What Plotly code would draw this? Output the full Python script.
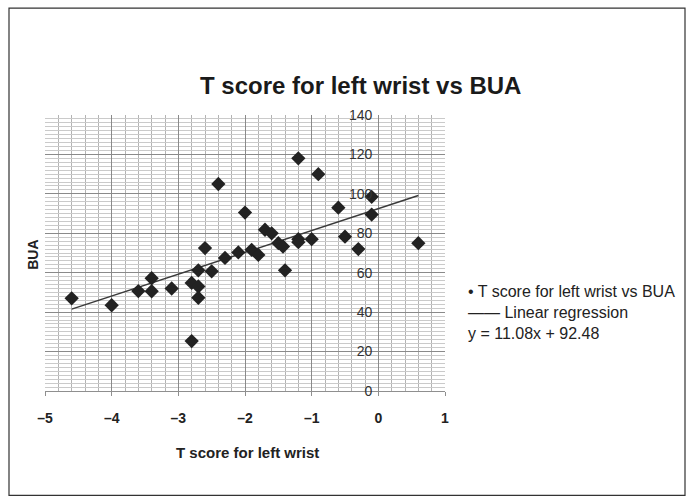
import plotly.graph_objects as go

# ---- data ----
t_score = [-4.6, -4.0, -3.6, -3.4, -3.4, -3.1, -2.8, -2.8, -2.7, -2.7, -2.7, -2.6,
           -2.5, -2.4, -2.3, -2.1, -2.0, -1.9, -1.8, -1.7, -1.6, -1.5, -1.43, -1.4,
           -1.2, -1.2, -1.2, -1.0, -0.9, -0.6, -0.5, -0.3, -0.1, -0.1, 0.6]
bua = [47.0, 43.5, 50.7, 57.2, 50.6, 52.0, 25.3, 54.8, 53.0, 47.3, 61.2, 72.5,
       60.7, 105.0, 67.5, 70.3, 90.5, 71.6, 69.0, 81.8, 80.0, 75.0, 73.3, 61.2,
       118.0, 77.0, 75.5, 77.0, 110.0, 93.0, 78.3, 72.0, 98.5, 89.5, 75.0]
slope = 11.08
intercept = 92.48
fit_x = [-4.6, 0.6]
x_tick_vals = [-5, -4, -3, -2, -1, 0, 1]
x_tick_text = ["\u20135", "\u20134", "\u20133", "\u20132", "\u20131", "0", "1"]
y_tick_vals = [0, 20, 40, 60, 80, 100, 120, 140]

fit_y = [slope * v + intercept for v in fit_x]

W, H = 692, 503
L, R, T, B = 45, 247, 115, 111.5
pw, ph = W - L - R, H - T - B

def px(xp):
    return (xp - L) / pw

def py(yp):
    return (H - B - yp) / ph

FONT = "Liberation Sans, Arial, sans-serif"

fig = go.Figure()
fig.add_trace(go.Scatter(
    x=fit_x, y=fit_y, mode="lines",
    line=dict(color="#3a3a3a", width=1.5), hoverinfo="skip", showlegend=False))
fig.add_trace(go.Scatter(
    x=t_score, y=bua, mode="markers",
    marker=dict(symbol="diamond", size=11, color="#222222"),
    showlegend=False))

fig.update_layout(
    width=W, height=H,
    margin=dict(l=L, r=R, t=T, b=B, autoexpand=False),
    paper_bgcolor="white", plot_bgcolor="white",
    font=dict(family=FONT, color="#222222"),
    xaxis=dict(
        range=[-5, 1], tickvals=x_tick_vals, ticktext=x_tick_text,
        showgrid=True, gridcolor="#8a8a8a", gridwidth=1,
        minor=dict(dtick=0.2, showgrid=True, gridcolor="#b3b3b3", gridwidth=1),
        zeroline=False, showline=True, linecolor="#8f8f8f", linewidth=1,
        ticks="outside", ticklen=4, tickcolor="#8f8f8f",
        ticklabelstandoff=10,
        tickfont=dict(family=FONT, size=14, color="#222222", weight="bold"),
    ),
    yaxis=dict(
        range=[0, 140], tickvals=y_tick_vals,
        anchor="free", position=5 / 6,
        showgrid=True, gridcolor="#8a8a8a", gridwidth=1,
        minor=dict(dtick=2, showgrid=True, gridcolor="#cacaca", gridwidth=1),
        zeroline=False, showline=False, ticks="", ticklabelstandoff=6,
        tickfont=dict(family=FONT, size=14, color="#333333"),
    ),
)

fig.add_annotation(
    xref="paper", yref="paper", x=px(360), y=py(85),
    text="<b>T score for left wrist vs BUA</b>", showarrow=False,
    font=dict(family=FONT, size=24, color="#1a1a1a"),
    xanchor="center", yanchor="middle")
fig.add_annotation(
    xref="paper", yref="paper", x=px(247), y=py(453),
    text="<b>T score for left wrist</b>", showarrow=False,
    font=dict(family=FONT, size=15, color="#222222"),
    xanchor="center", yanchor="middle")
fig.add_annotation(
    xref="paper", yref="paper", x=px(33), y=py(255),
    text="<b>BUA</b>", showarrow=False, textangle=-90,
    font=dict(family=FONT, size=14, color="#222222"),
    xanchor="center", yanchor="middle")
fig.add_annotation(
    xref="paper", yref="paper", x=px(466), y=py(313),
    text="\u2022 T score for left wrist vs BUA<br>\u2014\u2014 Linear regression<br>"
         f"y = {slope:.2f}x + {intercept:.2f}",
    showarrow=False, align="left",
    font=dict(family=FONT, size=16, color="#222222"),
    xanchor="left", yanchor="middle")

fig.add_shape(
    type="rect", xref="paper", yref="paper",
    x0=px(9), x1=px(685), y0=py(496), y1=py(8),
    line=dict(color="#333333", width=1.2), fillcolor="rgba(0,0,0,0)", layer="below")

fig.write_html("out.html", config={"displayModeBar": False},
               post_script="document.body.style.margin='0';document.body.style.overflow='hidden';")
